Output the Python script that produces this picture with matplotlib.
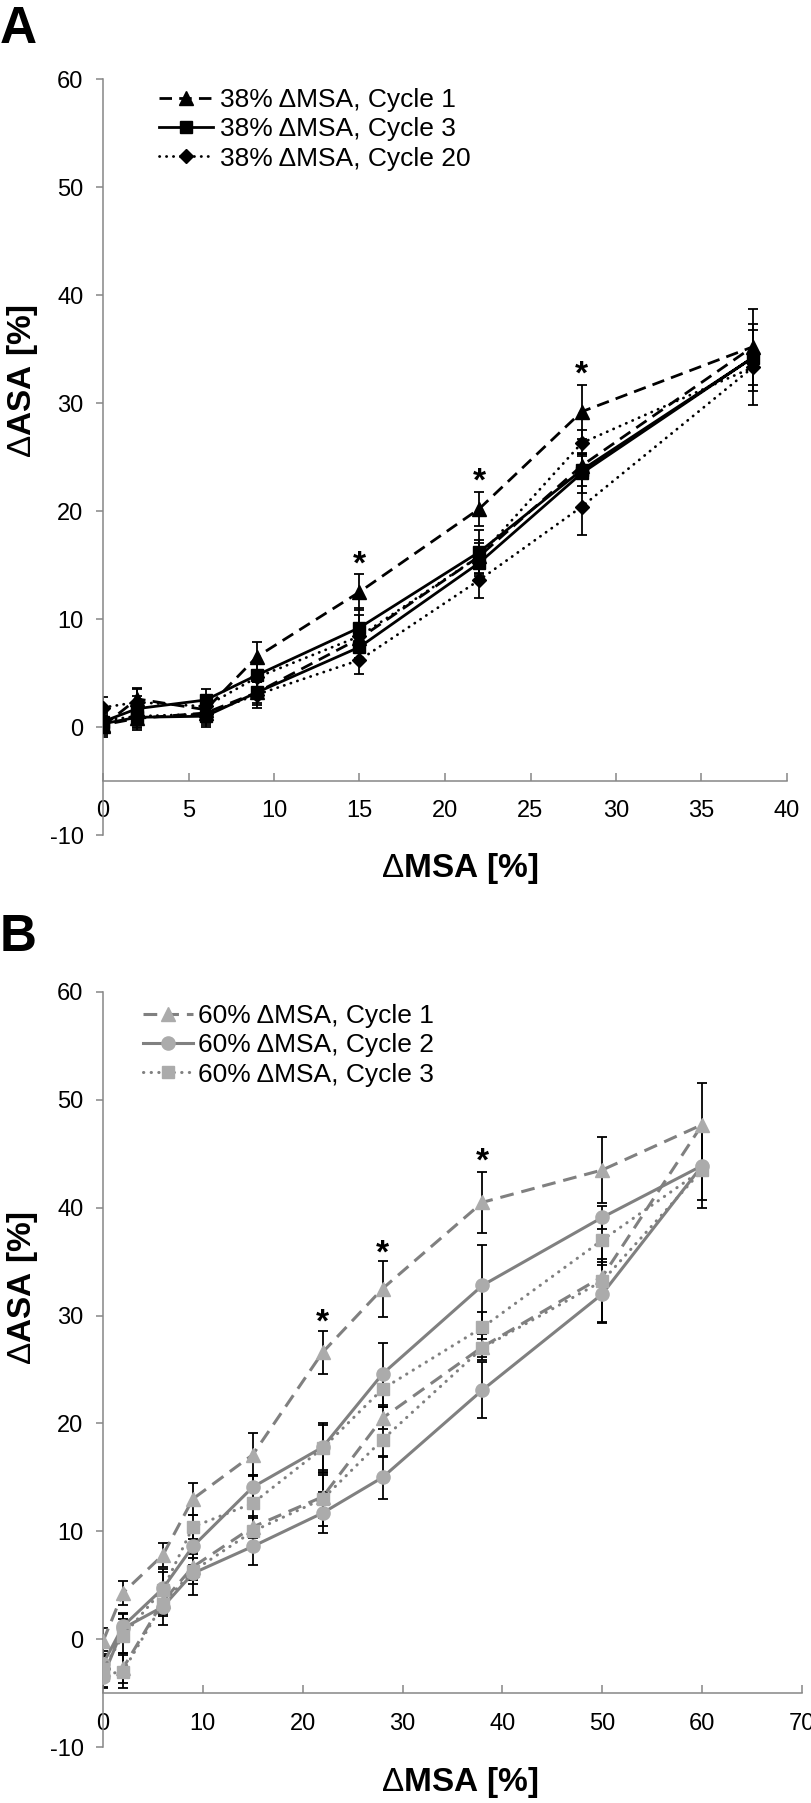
import matplotlib
matplotlib.use('Agg')
import matplotlib.pyplot as plt
from matplotlib.lines import Line2D

# ---------------- data ----------------
A_x = [0, 2, 6, 9, 15, 22, 28, 38, 28, 22, 15, 9, 6, 2, 0]
A_c1 = [0.1, 2.6, 1.6, 6.5, 12.5, 20.2, 29.2, 35.2, 24.2, 15.8, 8.2, 3.2, 1.3, 0.8, 0.2]
A_c1_err = [1.0, 1.0, 1.0, 1.4, 1.7, 1.6, 2.5, 3.5, 1.2, 1.2, 1.0, 1.0, 0.9, 0.9, 0.8]
A_c3 = [0.5, 1.7, 2.5, 4.8, 9.2, 16.2, 23.8, 34.2, 23.5, 15.2, 7.4, 3.2, 1.0, 0.9, 0.3]
A_c3_err = [1.0, 1.2, 1.0, 1.3, 1.8, 2.0, 1.5, 3.1, 1.8, 1.2, 1.2, 1.2, 1.0, 1.2, 1.0]
A_c20 = [1.8, 2.3, 1.9, 4.6, 8.4, 15.8, 26.3, 33.3, 20.4, 13.6, 6.2, 3.0, 1.2, 1.0, 0.6]
A_c20_err = [1.0, 1.2, 1.0, 1.2, 2.0, 1.5, 1.2, 3.5, 2.6, 1.7, 1.3, 1.2, 1.0, 1.0, 1.0]
A_labels = ['38% ΔMSA, Cycle 1', '38% ΔMSA, Cycle 3', '38% ΔMSA, Cycle 20']
A_star_x = [15, 22, 28]
A_star_y = [16.0, 23.7, 33.6]

B_x = [0, 2, 6, 9, 15, 22, 28, 38, 50, 60, 50, 38, 28, 22, 15, 9, 6, 2, 0]
B_c1 = [-0.2, 4.3, 7.8, 13.0, 17.1, 26.6, 32.5, 40.5, 43.5, 47.7, 33.6, 27.1, 20.5, 13.2, 10.4, 6.7, 3.5, -2.7, -2.8]
B_c1_err = [1.2, 1.1, 1.1, 1.5, 2.0, 2.0, 2.6, 2.8, 3.1, 3.9, 1.6, 1.2, 1.0, 2.0, 1.0, 1.2, 1.2, 1.4, 1.2]
B_c2 = [-2.3, 1.2, 4.7, 8.6, 14.1, 17.8, 24.6, 32.8, 39.1, 43.9, 32.0, 23.1, 15.0, 11.7, 8.6, 6.1, 3.0, 1.0, -3.5]
B_c2_err = [1.2, 1.2, 1.8, 1.7, 1.1, 2.1, 2.9, 3.7, 1.1, 3.2, 2.7, 2.6, 2.0, 1.9, 1.7, 2.0, 1.7, 1.3, 1.0]
B_c3 = [-2.8, 0.3, 4.6, 10.4, 12.6, 17.7, 23.2, 28.9, 37.0, 43.5, 33.2, 27.0, 18.5, 13.0, 10.0, 6.3, 3.3, -3.0, -3.3]
B_c3_err = [1.2, 1.6, 1.6, 1.1, 2.6, 2.3, 1.7, 1.4, 2.0, 3.5, 3.8, 0.8, 1.6, 2.5, 1.2, 1.2, 1.2, 1.5, 1.1]
B_labels = ['60% ΔMSA, Cycle 1', '60% ΔMSA, Cycle 2', '60% ΔMSA, Cycle 3']
B_star_x = [22, 28, 38]
B_star_y = [30.3, 36.7, 45.2]

# ---------------- fonts ----------------
plt.rcParams['font.family'] = ['Liberation Sans', 'DejaVu Sans']
plt.rcParams['mathtext.fontset'] = 'custom'
plt.rcParams['mathtext.rm'] = 'Liberation Sans'
plt.rcParams['mathtext.it'] = 'Liberation Sans:italic'
plt.rcParams['mathtext.bf'] = 'Liberation Sans:bold'
plt.rcParams['axes.unicode_minus'] = False

W, H = 812, 1803
fig = plt.figure(figsize=(W / 100, H / 100), dpi=100)


def fx(px):
    return px / W


def fy(py):
    return 1 - py / H


AX_GRAY = '#868686'
DASH = (0, (4.5, 2.6))
DOT = (0, (0.1, 2.4))
TICK_FS = 17
LEG_FS = 19


def setup_axes(ax, xmax, xstep):
    ax.set_xlim(0, xmax)
    ax.set_ylim(-10, 60)
    ax.set_xticks(range(0, xmax + 1, xstep))
    ax.set_yticks(range(-10, 61, 10))
    for s in ['top', 'right']:
        ax.spines[s].set_visible(False)
    ax.spines['left'].set_color(AX_GRAY)
    ax.spines['bottom'].set_color(AX_GRAY)
    ax.spines['left'].set_linewidth(1.1)
    ax.spines['bottom'].set_linewidth(1.1)
    ax.spines['bottom'].set_position(('data', -5))
    ax.tick_params(axis='x', direction='in', length=6, width=1.1, color=AX_GRAY,
                   pad=14, labelsize=TICK_FS)
    ax.tick_params(axis='y', direction='out', length=5, width=1.1, color=AX_GRAY,
                   pad=9, labelsize=TICK_FS)
    ax.patch.set_alpha(0)


def draw_series(ax, x, y, err, ls, marker, ms, lcolor, mcolor, lw):
    ax.errorbar(x, y, yerr=err, fmt='none', ecolor='black', elinewidth=1.3,
                capsize=3.6, capthick=1.3, zorder=2)
    ax.plot(x, y, linestyle=ls, color=lcolor, lw=lw, marker=marker, ms=ms,
            markerfacecolor=mcolor, markeredgecolor=mcolor, zorder=3,
            dash_capstyle='round' if ls == DOT else 'butt')


def stars(ax, xs, ys):
    fs = 24
    for xv, yv in zip(xs, ys):
        ax.annotate('*', (xv, yv), xytext=(0, -0.575 * fs), textcoords='offset points',
                    ha='center', va='baseline', fontsize=fs, fontweight='bold',
                    color='black', zorder=5)


# ---------------- Panel A ----------------
axA = fig.add_axes([fx(103), fy(835), fx(787) - fx(103), fy(79) - fy(835)])
setup_axes(axA, 40, 5)
specA = [(A_c1, A_c1_err, DASH, '^', 9.5), (A_c3, A_c3_err, '-', 's', 8.5),
         (A_c20, A_c20_err, DOT, 'D', 7.5)]
for yv, ev, ls, mk, ms in specA:
    draw_series(axA, A_x, yv, ev, ls, mk, ms, 'black', 'black', 2.0)
stars(axA, A_star_x, A_star_y)
handlesA = [Line2D([], [], linestyle=ls, color='black', lw=2.0, marker=mk, ms=ms,
                   dash_capstyle='round' if ls == DOT else 'butt')
            for _, _, ls, mk, ms in specA]
fig.legend(handlesA, A_labels, loc='upper left', bbox_to_anchor=(fx(159), fy(88)),
           frameon=False, handlelength=2.05, handletextpad=0.25, labelspacing=0.2,
           borderpad=0, borderaxespad=0, fontsize=LEG_FS)

# ---------------- Panel B ----------------
axB = fig.add_axes([fx(103), fy(1747), fx(802) - fx(103), fy(992) - fy(1747)])
setup_axes(axB, 70, 10)
LG = '#808080'
MG = '#ABABAB'
specB = [(B_c1, B_c1_err, DASH, '^', 10), (B_c2, B_c2_err, '-', 'o', 9.5),
         (B_c3, B_c3_err, DOT, 's', 8)]
for yv, ev, ls, mk, ms in specB:
    draw_series(axB, B_x, yv, ev, ls, mk, ms, LG, MG, 2.2)
stars(axB, B_star_x, B_star_y)
handlesB = [Line2D([], [], linestyle=ls, color=LG, lw=2.2, marker=mk, ms=ms,
                   markerfacecolor=MG, markeredgecolor=MG,
                   dash_capstyle='round' if ls == DOT else 'butt')
            for _, _, ls, mk, ms in specB]
fig.legend(handlesB, B_labels, loc='upper left', bbox_to_anchor=(fx(143), fy(1004)),
           frameon=False, handlelength=1.9, handletextpad=0.2, labelspacing=0.2,
           borderpad=0, borderaxespad=0, fontsize=LEG_FS)

# ---------------- labels ----------------
for ycen_ax, ycen_lab, letter_base, letter in [(868, 381, 43, 'A'), (1783, 1288, 951, 'B')]:
    fig.text(fx(460), fy(ycen_ax), r'$\Delta$MSA [%]', ha='center', va='center',
             fontsize=24, fontweight='bold')
    fig.text(fx(22), fy(ycen_lab), r'$\Delta$ASA [%]', ha='center', va='center',
             rotation=90, fontsize=24, fontweight='bold')
    fig.text(fx(0), fy(letter_base), letter, ha='left', va='baseline',
             fontsize=37, fontweight='bold')

fig.savefig('out.png', dpi=100)
